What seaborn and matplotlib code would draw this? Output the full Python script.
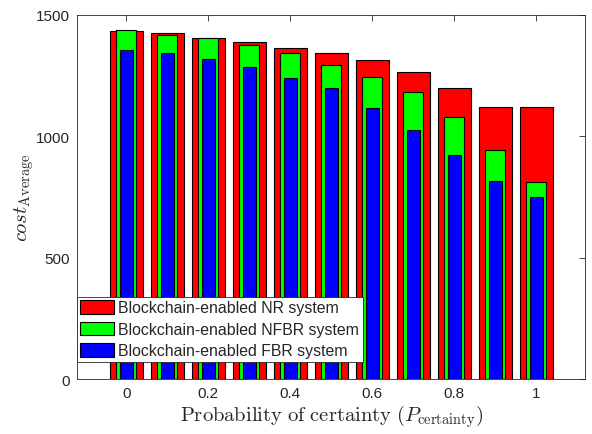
import numpy as np
import pandas as pd
import matplotlib
matplotlib.use("Agg")
import matplotlib.pyplot as plt
from matplotlib.patches import Patch
import seaborn as sns

# probability of certainty
p_cert = [0.0, 0.1, 0.2, 0.3, 0.4, 0.5, 0.6, 0.7, 0.8, 0.9, 1.0]

# average cost per system
cost_nr = [1431, 1424, 1405, 1387, 1361, 1341, 1315, 1265, 1197, 1118, 1121]
cost_nfbr = [1437, 1415, 1405, 1376, 1342, 1294, 1242, 1183, 1077, 944, 812]
cost_fbr = [1356, 1341, 1316, 1286, 1239, 1199, 1114, 1025, 922, 814, 749]

labels = ["Blockchain-enabled NR system",
          "Blockchain-enabled NFBR system",
          "Blockchain-enabled FBR system"]

sns.set_style("white")
plt.rcParams["font.family"] = ["Liberation Sans", "DejaVu Sans"]
plt.rcParams["mathtext.fontset"] = "cm"

fig, ax = plt.subplots(figsize=(5.92, 4.35), dpi=100)
fig.subplots_adjust(left=0.13, right=0.9887, top=0.964, bottom=0.1264)

series = [(cost_nr, "#ff0000", 0.8),
          (cost_nfbr, "#00ff00", 0.5),
          (cost_fbr, "#0000ff", 0.32)]
for vals, col, w in series:
    df = pd.DataFrame({"p": p_cert, "cost": vals})
    sns.barplot(data=df, x="p", y="cost", native_scale=True, color=col,
                saturation=1, width=w, edgecolor="black", linewidth=0.8,
                errorbar=None, ax=ax)

ax.set_xlim(-0.12, 1.12)
ax.set_ylim(0, 1500)
ax.set_xticks([0, 0.2, 0.4, 0.6, 0.8, 1])
ax.set_xticklabels(["0", "0.2", "0.4", "0.6", "0.8", "1"])
ax.set_yticks([0, 500, 1000, 1500])
ax.tick_params(direction="in", top=True, right=True, length=4,
               width=0.6, colors="#262626", labelsize=11, pad=5)
for s in ax.spines.values():
    s.set_visible(True)
    s.set_color("#262626")
    s.set_linewidth(0.6)

ax.set_xlabel(r"$\mathrm{Probability\ of\ certainty\ (}P_{\mathrm{certainty}}\mathrm{)}$",
              fontsize=14.8, labelpad=2)
ax.set_ylabel(r"$cost_{\mathrm{Average}}$", fontsize=14.8, labelpad=0)

handles = [Patch(facecolor=c, edgecolor="black", linewidth=0.8)
           for _, c, _ in series]
leg = ax.legend(handles, labels, loc="lower left", bbox_to_anchor=(0.0, 0.047),
                fontsize=11.4, frameon=True, fancybox=False, framealpha=1,
                borderpad=0.22, handlelength=2.15, handleheight=0.94,
                handletextpad=0.25, labelspacing=0.4, borderaxespad=0)
leg.get_frame().set_edgecolor("#262626")
leg.get_frame().set_linewidth(0.6)

fig.savefig("out.png", dpi=100)
